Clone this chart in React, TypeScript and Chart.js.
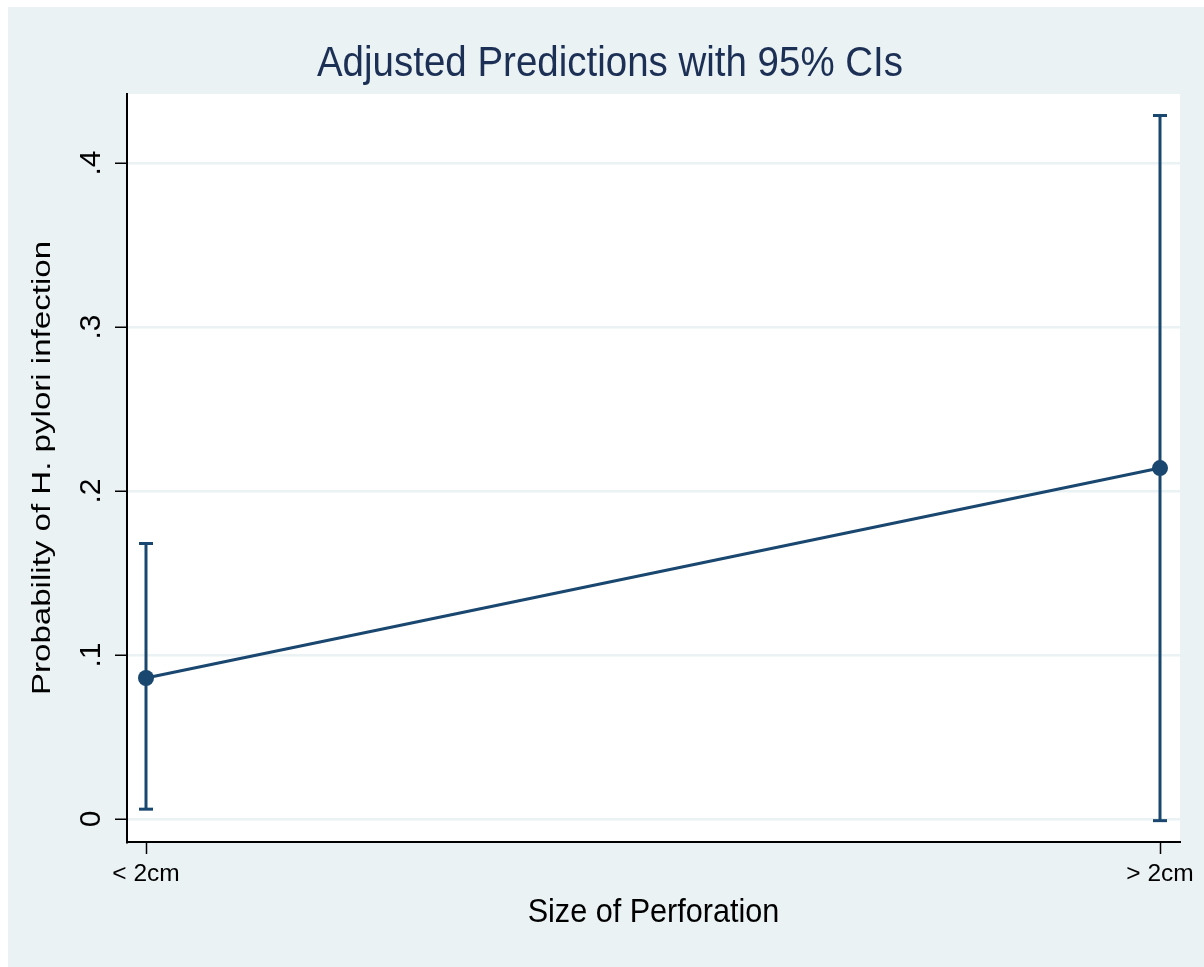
import React, { useEffect, useRef } from "react";
import { Chart, registerables } from "chart.js";

Chart.register(...registerables);

// Predicted probabilities and 95% confidence limits per perforation size
const categories = ["< 2cm", "> 2cm"];
const predicted = [0.086, 0.214];
const ciLower = [0.006, -0.001];
const ciUpper = [0.168, 0.429];

// Y axis ticks and their labels
const yTickValues = [0, 0.1, 0.2, 0.3, 0.4];
const yTickLabels = ["0", ".1", ".2", ".3", ".4"];

const chartTitle = "Adjusted Predictions with 95% CIs";
const xAxisTitle = "Size of Perforation";
const yAxisTitle = "Probability of H. pylori infection";

const navy = "#1a476f";
const titleNavy = "#1c2f55";
const backdropColor = "#eaf2f3";
const fontFamily = '"Liberation Sans", Arial, Helvetica, sans-serif';

// Draws a text string; rotated text reads bottom-to-top. `squash` narrows the glyphs
// across the reading direction for horizontal text and across the glyph height for rotated text.
function drawText(
  ctx: CanvasRenderingContext2D,
  text: string,
  x: number,
  y: number,
  size: number,
  color: string,
  rotated: boolean,
  squash: number
) {
  ctx.save();
  ctx.translate(x, y);
  if (rotated) {
    ctx.rotate(-Math.PI / 2);
    ctx.scale(1, squash);
  } else {
    ctx.scale(squash, 1);
  }
  ctx.font = `${size}px ${fontFamily}`;
  ctx.fillStyle = color;
  ctx.textAlign = "center";
  ctx.textBaseline = "alphabetic";
  ctx.fillText(text, 0, 0);
  ctx.restore();
}

const backdropPlugin = {
  id: "backdrop",
  beforeDraw(chart: any) {
    const { ctx, chartArea: a, width, height } = chart;
    ctx.save();
    ctx.fillStyle = backdropColor;
    ctx.fillRect(0, 0, width, height);
    ctx.fillStyle = "#ffffff";
    ctx.fillRect(a.left, a.top, a.right - a.left, a.bottom - a.top);
    ctx.restore();
  },
};

const textPlugin = {
  id: "stataText",
  afterDraw(chart: any) {
    const { ctx, chartArea: a, width } = chart;
    const xs = chart.scales.x;
    const ys = chart.scales.y;

    drawText(ctx, chartTitle, width / 2 + 4, a.top - 18.3, 43, titleNavy, false, 0.895);

    yTickValues.forEach((v, i) => {
      drawText(ctx, yTickLabels[i], a.left - 27.5, ys.getPixelForValue(v), 30, "#000", true, 1);
    });

    categories.forEach((c, i) => {
      drawText(ctx, c, xs.getPixelForValue(i), a.bottom + 38.7, 24.5, "#000", false, 1);
    });

    drawText(ctx, xAxisTitle, (a.left + a.right) / 2, a.bottom + 79.7, 34, "#000", false, 0.9);
    drawText(ctx, yAxisTitle, a.left - 77, (a.top + a.bottom) / 2, 33.1, "#000", true, 0.77);
  },
};

export default function App() {
  const canvasRef = useRef<HTMLCanvasElement>(null);

  useEffect(() => {
    const canvas = canvasRef.current;
    if (!canvas) return;

    const predictedData = categories.map((_, i) => ({ x: i, y: predicted[i] }));
    const ciDatasets = categories.map((c, i) => ({
      label: `95% CI ${c}`,
      data: [
        { x: i, y: ciLower[i] },
        { x: i, y: ciUpper[i] },
      ],
      borderColor: navy,
      backgroundColor: navy,
      borderWidth: 3,
      pointStyle: "line" as const,
      pointRadius: 7,
      pointBorderWidth: 3,
      pointBorderColor: navy,
      clip: false as const,
      order: 1,
    }));

    const chart = new Chart(canvas, {
      type: "line",
      data: {
        datasets: [
          {
            label: "Predicted probability",
            data: predictedData,
            borderColor: navy,
            backgroundColor: navy,
            borderWidth: 3,
            pointRadius: 8,
            pointBackgroundColor: navy,
            pointBorderColor: navy,
            pointBorderWidth: 0,
            clip: false as const,
            order: 0,
          },
          ...ciDatasets,
        ],
      },
      options: {
        responsive: false,
        animation: false,
        events: [],
        layout: { padding: { top: 87, right: 24, left: 0, bottom: 0 } },
        plugins: {
          legend: { display: false },
          tooltip: { enabled: false },
          title: { display: false },
        },
        scales: {
          x: {
            type: "linear",
            min: -0.01874,
            max: 1.01972,
            afterBuildTicks: (s: any) => {
              s.ticks = categories.map((_, i) => ({ value: i }));
            },
            afterFit: (s: any) => {
              s.height = 125;
            },
            ticks: { display: false },
            grid: {
              drawOnChartArea: false,
              drawTicks: true,
              tickLength: 12,
              tickColor: "#000",
              tickWidth: 1.5,
            },
            border: { display: true, color: "#000", width: 2 },
          },
          y: {
            type: "linear",
            min: -0.01402,
            max: 0.4421,
            afterBuildTicks: (s: any) => {
              s.ticks = yTickValues.map((v) => ({ value: v }));
            },
            afterFit: (s: any) => {
              s.width = 119;
            },
            ticks: { display: false },
            grid: {
              color: backdropColor,
              lineWidth: 2.5,
              drawTicks: true,
              tickLength: 12,
              tickColor: "#000",
              tickWidth: 1.5,
            },
            border: { display: true, color: "#000", width: 2 },
          },
        },
      },
      plugins: [backdropPlugin, textPlugin],
    });

    return () => chart.destroy();
  }, []);

  return (
    <canvas
      ref={canvasRef}
      width={1196}
      height={960}
      style={{ position: "absolute", left: 8, top: 7, width: 1196, height: 960, display: "block" }}
    />
  );
}
